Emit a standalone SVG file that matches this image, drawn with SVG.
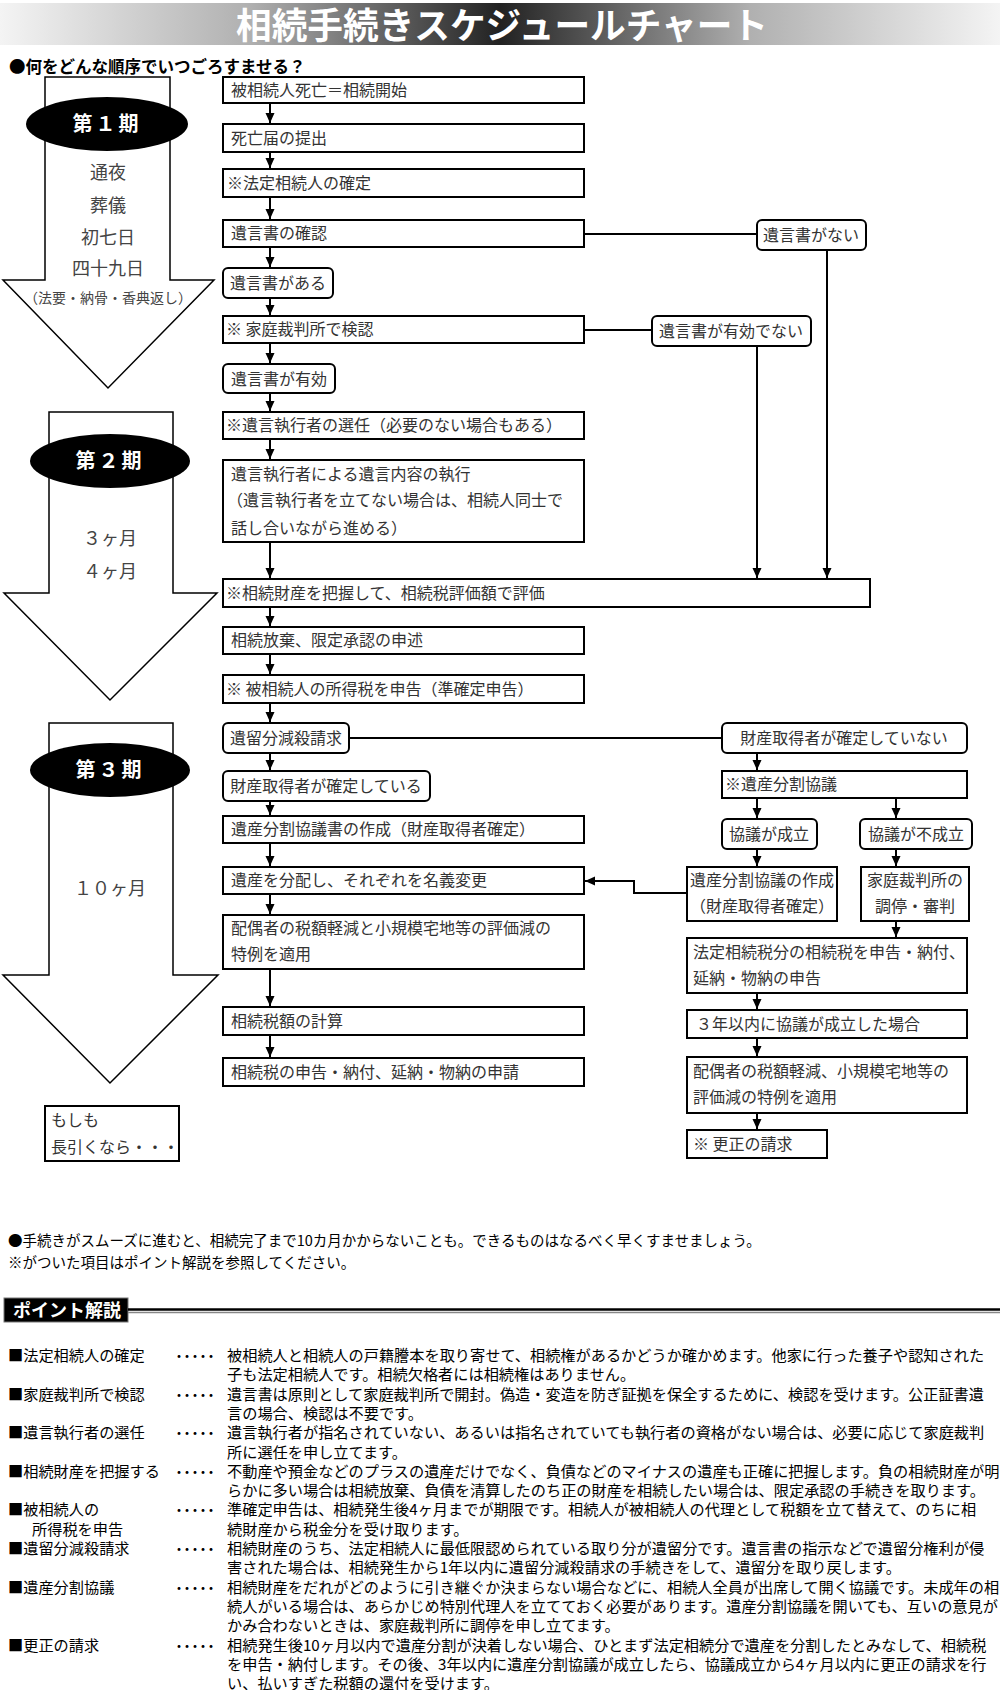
<svg xmlns="http://www.w3.org/2000/svg" width="1000" height="1690" viewBox="0 0 1000 1690">
<style>
text{font-family:"Noto Sans CJK JP","Noto Sans CJK SC",sans-serif}
.box{fill:#fff;stroke:#000;stroke-width:2}
.t{font-size:16px;fill:#333}
.c{text-anchor:middle}
.ph{fill:#fff;stroke:#000;stroke-width:1.5}
.pt{font-size:18px;fill:#444;text-anchor:middle}
.el{fill:#000}
.et{font-size:20px;font-weight:bold;fill:#fff;text-anchor:middle}
.ln{fill:none;stroke:#000;stroke-width:2}
.ar{marker-end:url(#ah)}
.b{font-size:15.2px;fill:#000}
.d{font-size:14px;letter-spacing:-6px;fill:#000}
.n{font-size:14.5px;fill:#000}
</style>
<defs>
<linearGradient id="tg" x1="0" y1="0" x2="1" y2="0">
<stop offset="0" stop-color="#f4f4f4"/>
<stop offset="0.25" stop-color="#b0b0b0"/>
<stop offset="0.5" stop-color="#222"/>
<stop offset="0.75" stop-color="#b0b0b0"/>
<stop offset="1" stop-color="#f4f4f4"/>
</linearGradient>
<marker id="ah" markerWidth="10" markerHeight="10" refX="10" refY="5" orient="auto" markerUnits="userSpaceOnUse">
<path d="M0,0.5 L10,5 L0,9.5 z" fill="#000"/>
</marker>
</defs>
<rect width="1000" height="1690" fill="#fff"/>

<g id="title">
<rect x="0" y="3" width="1000" height="42" fill="url(#tg)"/>
<text x="502" y="39" font-size="36" font-weight="bold" fill="#fff" text-anchor="middle" textLength="532" lengthAdjust="spacingAndGlyphs">相続手続きスケジュールチャート</text>
</g>
<text id="subtitle" x="9" y="73" font-size="16.5" font-weight="bold" fill="#000">●何をどんな順序でいつごろすませる？</text>

<g id="phase1">
<polygon class="ph" points="45,77 170,77 170,280 214,280 108,388 3,280 45,280"/>
<ellipse class="el" cx="107" cy="124" rx="81" ry="27"/>
<text class="et" x="107" y="131" letter-spacing="3">第１期</text>
<text class="pt" x="108" y="179">通夜</text>
<text class="pt" x="108" y="212">葬儀</text>
<text class="pt" x="108" y="244">初七日</text>
<text class="pt" x="108" y="275">四十九日</text>
<text x="108" y="303" font-size="14" fill="#444" text-anchor="middle">（法要・納骨・香典返し）</text>
</g>
<g id="phase2">
<polygon class="ph" points="49,412 173,412 173,593 217,593 110,700 4,593 49,593"/>
<ellipse class="el" cx="110" cy="461" rx="80" ry="27"/>
<text class="et" x="110" y="468" letter-spacing="3">第２期</text>
<text class="pt" x="110" y="545">３ヶ月</text>
<text class="pt" x="110" y="578">４ヶ月</text>
</g>
<g id="phase3">
<polygon class="ph" points="49,723 173,723 173,975 218,975 110,1083 3,975 49,975"/>
<ellipse class="el" cx="110" cy="770" rx="80" ry="27"/>
<text class="et" x="110" y="777" letter-spacing="3">第３期</text>
<text class="pt" x="110" y="895">１０ヶ月</text>
</g>
<g id="moshimo">
<rect class="box" x="45" y="1106" width="134" height="55"/>
<text class="t" x="51" y="1126">もしも</text>
<text class="t" x="51" y="1153">長引くなら・・・</text>
</g>

<g id="connectors">
<path class="ln ar" d="M270,103 V123"/>
<path class="ln ar" d="M270,152 V168"/>
<path class="ln ar" d="M270,197 V219"/>
<path class="ln ar" d="M270,247 V267"/>
<path class="ln ar" d="M270,298 V315"/>
<path class="ln ar" d="M270,343 V363"/>
<path class="ln ar" d="M270,393 V411"/>
<path class="ln ar" d="M270,439 V459"/>
<path class="ln ar" d="M270,542 V578"/>
<path class="ln ar" d="M270,607 V626"/>
<path class="ln ar" d="M270,654 V674"/>
<path class="ln ar" d="M270,703 V722"/>
<path class="ln ar" d="M270,753 V770"/>
<path class="ln ar" d="M270,801 V815"/>
<path class="ln ar" d="M270,843 V866"/>
<path class="ln ar" d="M270,894 V914"/>
<path class="ln ar" d="M270,969 V1006"/>
<path class="ln ar" d="M270,1035 V1057"/>
<path class="ln" d="M584,234 H757"/>
<path class="ln" d="M584,330 H652"/>
<path class="ln ar" d="M827,250 V578"/>
<path class="ln ar" d="M757,346 V578"/>
<path class="ln" d="M349,738 H722"/>
<path class="ln ar" d="M757,753 V770"/>
<path class="ln ar" d="M757,798 V818"/>
<path class="ln ar" d="M896,798 V818"/>
<path class="ln ar" d="M757,849 V866"/>
<path class="ln ar" d="M896,849 V866"/>
<path class="ln ar" d="M896,921 V937"/>
<path class="ln ar" d="M757,993 V1009"/>
<path class="ln ar" d="M757,1038 V1056"/>
<path class="ln ar" d="M757,1113 V1129"/>
<path class="ln ar" d="M687,893 H634 V881 H585"/>
</g>

<g id="n1"><rect class="box" x="223" y="77" width="361" height="26"/><text class="t" x="231" y="96">被相続人死亡＝相続開始</text></g>
<g id="n2"><rect class="box" x="223" y="124" width="361" height="28"/><text class="t" x="231" y="144">死亡届の提出</text></g>
<g id="n3"><rect class="box" x="223" y="169" width="361" height="28"/><text class="t" x="227" y="189">※法定相続人の確定</text></g>
<g id="n4"><rect class="box" x="223" y="220" width="361" height="27"/><text class="t" x="231" y="239">遺言書の確認</text></g>
<g id="n5"><rect class="box" x="223" y="268" width="110" height="30" rx="5"/><text class="t c" x="278" y="289">遺言書がある</text></g>
<g id="n6"><rect class="box" x="223" y="316" width="361" height="27"/><text class="t" x="226" y="335">※ 家庭裁判所で検認</text></g>
<g id="n7"><rect class="box" x="223" y="364" width="112" height="29" rx="5"/><text class="t c" x="279" y="385">遺言書が有効</text></g>
<g id="n8"><rect class="box" x="223" y="412" width="361" height="27"/><text class="t" x="226" y="431">※遺言執行者の選任（必要のない場合もある）</text></g>
<g id="n9"><rect class="box" x="223" y="460" width="361" height="82"/>
<text class="t" x="231" y="480">遺言執行者による遺言内容の執行</text>
<text class="t" x="227" y="506">（遺言執行者を立てない場合は、相続人同士で</text>
<text class="t" x="231" y="534">話し合いながら進める）</text></g>
<g id="n10"><rect class="box" x="223" y="579" width="647" height="28"/><text class="t" x="226" y="599">※相続財産を把握して、相続税評価額で評価</text></g>
<g id="n11"><rect class="box" x="223" y="627" width="361" height="27"/><text class="t" x="231" y="646">相続放棄、限定承認の申述</text></g>
<g id="n12"><rect class="box" x="223" y="675" width="361" height="28"/><text class="t" x="226" y="695">※ 被相続人の所得税を申告（準確定申告）</text></g>
<g id="n13"><rect class="box" x="223" y="723" width="126" height="30" rx="5"/><text class="t c" x="286" y="744">遺留分減殺請求</text></g>
<g id="n14"><rect class="box" x="223" y="771" width="207" height="30" rx="5"/><text class="t c" x="326" y="792">財産取得者が確定している</text></g>
<g id="n15"><rect class="box" x="223" y="816" width="361" height="27"/><text class="t" x="231" y="835">遺産分割協議書の作成（財産取得者確定）</text></g>
<g id="n16"><rect class="box" x="223" y="867" width="361" height="27"/><text class="t" x="231" y="886">遺産を分配し、それぞれを名義変更</text></g>
<g id="n17"><rect class="box" x="223" y="915" width="361" height="54"/>
<text class="t" x="231" y="934">配偶者の税額軽減と小規模宅地等の評価減の</text>
<text class="t" x="231" y="960">特例を適用</text></g>
<g id="n18"><rect class="box" x="223" y="1007" width="361" height="28"/><text class="t" x="231" y="1027">相続税額の計算</text></g>
<g id="n19"><rect class="box" x="223" y="1058" width="361" height="28"/><text class="t" x="231" y="1078">相続税の申告・納付、延納・物納の申請</text></g>

<g id="r1"><rect class="box" x="757" y="220" width="109" height="30" rx="5"/><text class="t c" x="811" y="241">遺言書がない</text></g>
<g id="r2"><rect class="box" x="652" y="316" width="159" height="30" rx="5"/><text class="t c" x="731" y="337">遺言書が有効でない</text></g>
<g id="r3"><rect class="box" x="722" y="723" width="245" height="30" rx="5"/><text class="t c" x="844" y="744">財産取得者が確定していない</text></g>
<g id="r4"><rect class="box" x="722" y="771" width="245" height="27"/><text class="t" x="725" y="790">※遺産分割協議</text></g>
<g id="r5"><rect class="box" x="722" y="819" width="95" height="30" rx="5"/><text class="t c" x="769" y="840">協議が成立</text></g>
<g id="r6"><rect class="box" x="860" y="819" width="112" height="30" rx="5"/><text class="t c" x="916" y="840">協議が不成立</text></g>
<g id="r7"><rect class="box" x="687" y="867" width="150" height="54"/>
<text class="t c" x="762" y="886">遺産分割協議の作成</text>
<text class="t c" x="762" y="912">（財産取得者確定）</text></g>
<g id="r8"><rect class="box" x="861" y="867" width="108" height="54"/>
<text class="t c" x="915" y="886">家庭裁判所の</text>
<text class="t c" x="915" y="912">調停・審判</text></g>
<g id="r9"><rect class="box" x="687" y="938" width="280" height="55"/>
<text class="t" x="693" y="958">法定相続税分の相続税を申告・納付、</text>
<text class="t" x="693" y="984">延納・物納の申告</text></g>
<g id="r10"><rect class="box" x="687" y="1010" width="280" height="28"/><text class="t" x="696" y="1030">３年以内に協議が成立した場合</text></g>
<g id="r11"><rect class="box" x="687" y="1057" width="280" height="56"/>
<text class="t" x="693" y="1077">配偶者の税額軽減、小規模宅地等の</text>
<text class="t" x="693" y="1103">評価減の特例を適用</text></g>
<g id="r12"><rect class="box" x="687" y="1130" width="140" height="28"/><text class="t" x="693" y="1150">※ 更正の請求</text></g>

<g id="notes">
<text class="n" x="8" y="1246">●手続きがスムーズに進むと、相続完了まで10カ月かからないことも。できるものはなるべく早くすませましょう。</text>
<text class="n" x="8" y="1268">※がついた項目はポイント解説を参照してください。</text>
</g>

<g id="points-header">
<rect x="4" y="1298" width="124" height="24" fill="#000" stroke="#777" stroke-width="1"/>
<text x="13" y="1317" font-size="18" font-weight="bold" fill="#fff">ポイント解説</text>
<line x1="128" y1="1309.5" x2="1000" y2="1309.5" stroke="#000" stroke-width="2.5"/>
<line x1="128" y1="1312.5" x2="1000" y2="1312.5" stroke="#888" stroke-width="1.5"/>
</g>

<g id="points">
<text class="b">
<tspan x="8" y="1361">■法定相続人の確定</tspan>
<tspan x="8" y="1399.6">■家庭裁判所で検認</tspan>
<tspan x="8" y="1438.2">■遺言執行者の選任</tspan>
<tspan x="8" y="1476.8">■相続財産を把握する</tspan>
<tspan x="8" y="1515.4">■被相続人の</tspan>
<tspan x="32" y="1534.7">所得税を申告</tspan>
<tspan x="8" y="1554">■遺留分減殺請求</tspan>
<tspan x="8" y="1592.6">■遺産分割協議</tspan>
<tspan x="8" y="1650.5">■更正の請求</tspan>
</text>
<text class="d">
<tspan x="172" y="1361">・・・・・</tspan>
<tspan x="172" y="1399.6">・・・・・</tspan>
<tspan x="172" y="1438.2">・・・・・</tspan>
<tspan x="172" y="1476.8">・・・・・</tspan>
<tspan x="172" y="1515.4">・・・・・</tspan>
<tspan x="172" y="1554">・・・・・</tspan>
<tspan x="172" y="1592.6">・・・・・</tspan>
<tspan x="172" y="1650.5">・・・・・</tspan>
</text>
<text class="b">
<tspan x="227" y="1361">被相続人と相続人の戸籍謄本を取り寄せて、相続権があるかどうか確かめます。他家に行った養子や認知された</tspan>
<tspan x="227" y="1380.3">子も法定相続人です。相続欠格者には相続権はありません。</tspan>
<tspan x="227" y="1399.6">遺言書は原則として家庭裁判所で開封。偽造・変造を防ぎ証拠を保全するために、検認を受けます。公正証書遺</tspan>
<tspan x="227" y="1418.9">言の場合、検認は不要です。</tspan>
<tspan x="227" y="1438.2">遺言執行者が指名されていない、あるいは指名されていても執行者の資格がない場合は、必要に応じて家庭裁判</tspan>
<tspan x="227" y="1457.5">所に選任を申し立てます。</tspan>
<tspan x="227" y="1476.8">不動産や預金などのプラスの遺産だけでなく、負債などのマイナスの遺産も正確に把握します。負の相続財産が明</tspan>
<tspan x="227" y="1496.1">らかに多い場合は相続放棄、負債を清算したのち正の財産を相続したい場合は、限定承認の手続きを取ります。</tspan>
<tspan x="227" y="1515.4">準確定申告は、相続発生後4ヶ月までが期限です。相続人が被相続人の代理として税額を立て替えて、のちに相</tspan>
<tspan x="227" y="1534.7">続財産から税金分を受け取ります。</tspan>
<tspan x="227" y="1554">相続財産のうち、法定相続人に最低限認められている取り分が遺留分です。遺言書の指示などで遺留分権利が侵</tspan>
<tspan x="227" y="1573.3">害された場合は、相続発生から1年以内に遺留分減殺請求の手続きをして、遺留分を取り戻します。</tspan>
<tspan x="227" y="1592.6">相続財産をだれがどのように引き継ぐか決まらない場合などに、相続人全員が出席して開く協議です。未成年の相</tspan>
<tspan x="227" y="1611.9">続人がいる場合は、あらかじめ特別代理人を立てておく必要があります。遺産分割協議を開いても、互いの意見が</tspan>
<tspan x="227" y="1631.2">かみ合わないときは、家庭裁判所に調停を申し立てます。</tspan>
<tspan x="227" y="1650.5">相続発生後10ヶ月以内で遺産分割が決着しない場合、ひとまず法定相続分で遺産を分割したとみなして、相続税</tspan>
<tspan x="227" y="1669.8">を申告・納付します。その後、3年以内に遺産分割協議が成立したら、協議成立から4ヶ月以内に更正の請求を行</tspan>
<tspan x="227" y="1689.1">い、払いすぎた税額の還付を受けます。</tspan>
</text>
</g>
</svg>
